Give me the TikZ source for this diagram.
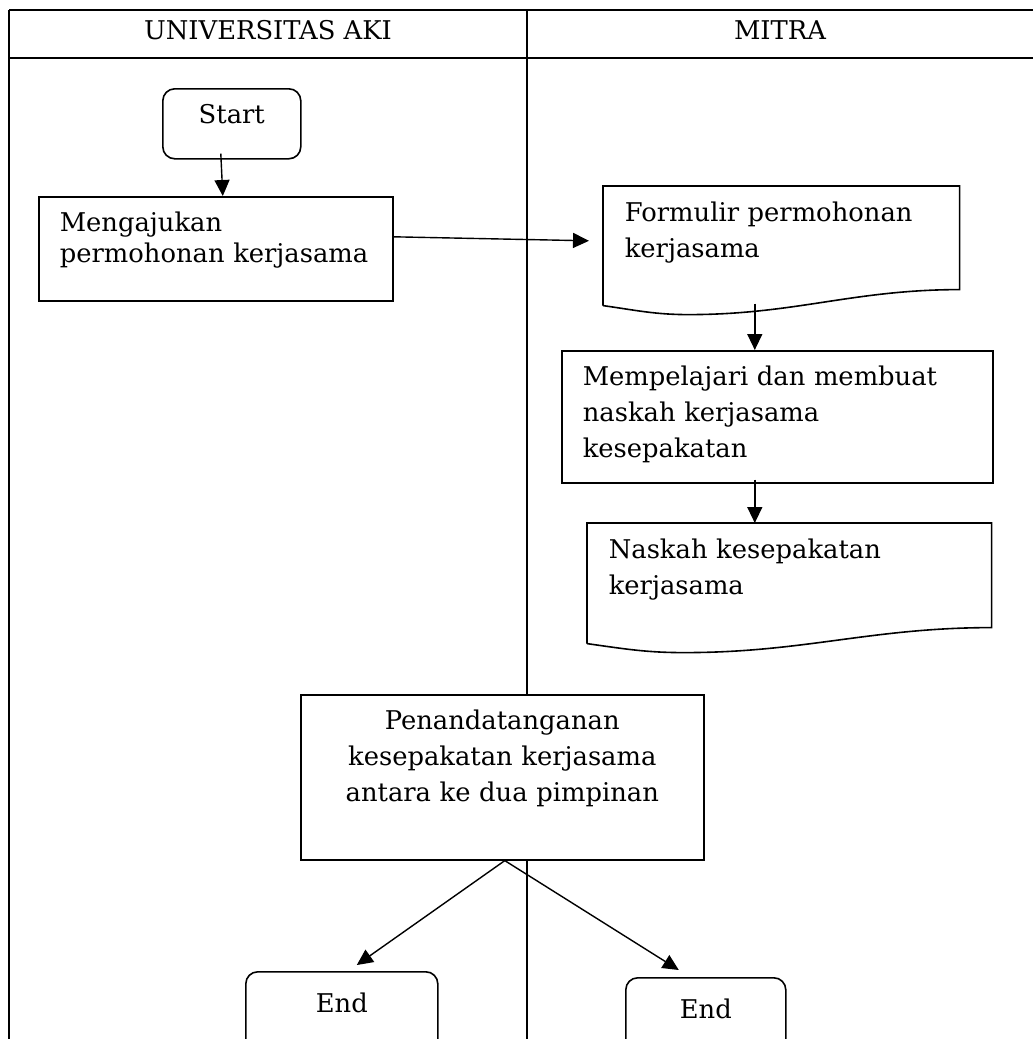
\documentclass[tikz,border=0pt]{standalone}
\usepackage{fontspec}
\setmainfont{DejaVu Serif}
\usetikzlibrary{arrows.meta,calc}

\newcommand{\docoutline}[1]{%
	\draw[line width=0.8pt] (#1.south west) -- (#1.north west) -- (#1.north east)
		-- ($(#1.south east)+(0,16)$)
		to[out=180,in=0] ($(#1.south west)!0.24!(#1.south east)+(0,-9)$)
		to[out=180,in=-8] (#1.south west);}

\begin{document}
\begin{tikzpicture}[
		x=0.5pt,y=0.5pt,
		font={\fontsize{12.9}{18}\selectfont},
		mybox/.style={draw,fill=white,line width=0.8pt,anchor=north west,align=left,inner xsep=10.5pt,inner ysep=7.5pt,text height=9.75pt},
		mydoc/.style={mybox,draw=none},
		myterm/.style={mybox,rounded corners=6pt,align=center},
		mylane/.style={line width=1.2pt},
		myarrow/.style={line width=0.7pt,-{Triangle[length=8pt,width=7.5pt]}}
		]
		\useasboundingbox (0,0) rectangle (1033,-1039);
		\clip (0,0) rectangle (1033,-1039);
		\draw[mylane] (9,-10) -- (1040,-10);
		\draw[mylane] (9,-58) -- (1040,-58);
		\draw[mylane] (9,-10) -- (9,-1045);
		\draw[mylane] (527,-10) -- (527,-1045);
		\node (univ) at (268,-30) {UNIVERSITAS AKI};
		\node (mitra) at (780,-30) {MITRA};
		\node[myterm,text width=48pt,text depth=10.25pt] (start) at (162,-88) {Start};
		\node[mybox,text width=156pt,text depth=27.25pt,font={\fontsize{12.9}{15.5}\selectfont}] (mengajukan) at (38,-196) {Mengajukan\\permohonan kerjasama};
		\node[mydoc,text width=156.5pt,text depth=34.25pt] (formulir) at (603,-186) {Formulir permohonan\\kerjasama};
		\node[mybox,text width=194.5pt,text depth=41.25pt] (mempelajari) at (561,-350) {Mempelajari dan membuat\\naskah kerjasama\\kesepakatan};
		\node[mydoc,text width=180.5pt,text depth=34.75pt] (naskah) at (587,-523) {Naskah kesepakatan\\kerjasama};
		\node[mybox,align=center,text width=180.5pt,text depth=57.75pt] (ttd) at (300,-694) {Penandatanganan\\kesepakatan kerjasama\\antara ke dua pimpinan};
		\node[myterm,text width=75pt,inner ysep=10.75pt,text depth=20pt] (endA) at (245,-971) {End};
		\node[myterm,text width=59pt,inner ysep=10.75pt,text depth=20pt] (endB) at (625,-977) {End};
		\docoutline{formulir}
		\docoutline{naskah}
		\path [myarrow]
		([xshift=-5.5pt,yshift=3pt]start.south) edge ([xshift=3.5pt]mengajukan.north)
		([yshift=6pt]mengajukan.east) edge ([xshift=-7pt,yshift=2.5pt]formulir.west)
		([xshift=-13.25pt,yshift=1pt]formulir.south) edge ([xshift=-11.25pt]mempelajari.north)
		([xshift=-11.25pt,yshift=2pt]mempelajari.south) edge ([xshift=-17.25pt]naskah.north)
		([xshift=1.25pt]ttd.south) edge ([xshift=7.5pt,yshift=3pt]endA.north)
		([xshift=1.25pt]ttd.south) edge ([xshift=-13.5pt,yshift=3.5pt]endB.north);
	\end{tikzpicture}
\end{document}
